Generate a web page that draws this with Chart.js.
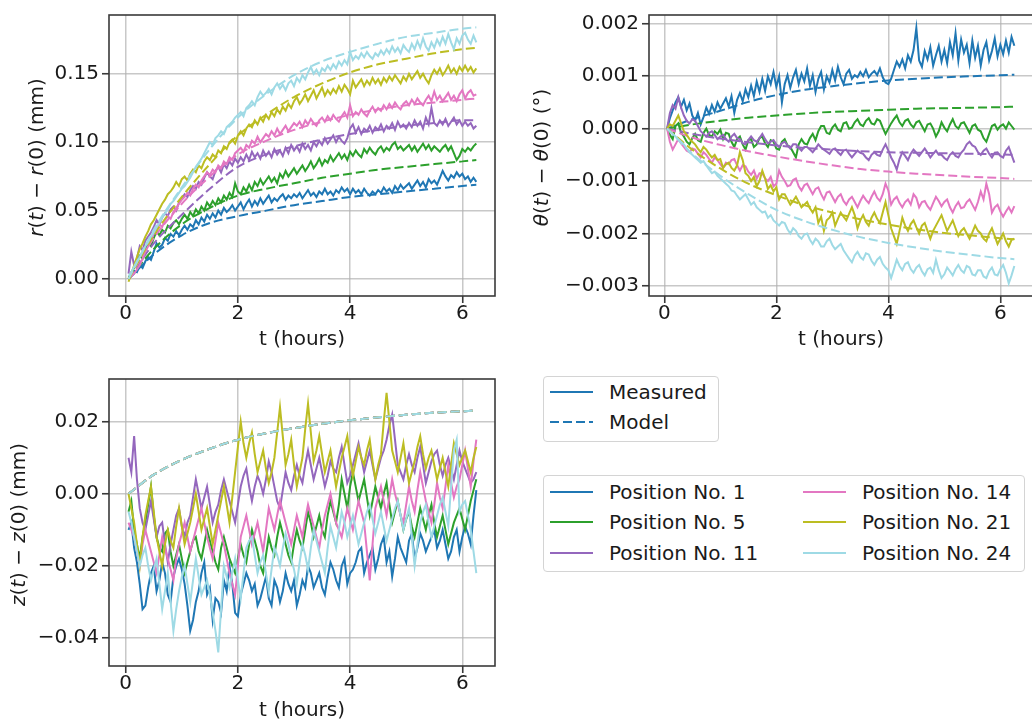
<!DOCTYPE html>
<html>
<head>
<meta charset="utf-8">
<script src="https://cdn.jsdelivr.net/npm/chart.js@4/dist/chart.umd.min.js"></script>
<style>
  html, body { margin: 0; padding: 0; background: #fff; }
  body { position: relative; width: 1032px; height: 721px; overflow: hidden; font-family: "DejaVu Sans", sans-serif; }
  canvas { position: absolute; }
  .legend { position: absolute; box-sizing: border-box; border: 1px solid #d4d4d4; border-radius: 4px; background: #fff; }
  .legend .txt { position: absolute; font-size: 20px; line-height: 24px; color: #1a1a1a; white-space: nowrap; }
  .legend svg { position: absolute; overflow: visible; }
</style>
</head>
<body>
<canvas id="rChart" width="520" height="360" style="left:0;top:0"></canvas>
<canvas id="thetaChart" width="540" height="360" style="left:520px;top:0"></canvas>
<canvas id="zChart" width="520" height="380" style="left:0;top:360px"></canvas>
<div class="legend" id="kindLegend" style="left:543px;top:376px;width:176px;height:66px"></div>
<div class="legend" id="posLegend" style="left:543px;top:475px;width:482px;height:97px"></div>

<script>
// sample times (hours), one row per half hour
const times = [
  0.05, 0.10, 0.15, 0.20, 0.25, 0.30, 0.35, 0.40, 0.45, 0.50,
  0.55, 0.60, 0.65, 0.70, 0.75, 0.80, 0.85, 0.90, 0.95, 1.00,
  1.05, 1.10, 1.15, 1.20, 1.25, 1.30, 1.35, 1.40, 1.45, 1.50,
  1.55, 1.60, 1.65, 1.70, 1.75, 1.80, 1.85, 1.90, 1.95, 2.00,
  2.05, 2.10, 2.15, 2.20, 2.25, 2.30, 2.35, 2.40, 2.45, 2.50,
  2.55, 2.60, 2.65, 2.70, 2.75, 2.80, 2.85, 2.90, 2.95, 3.00,
  3.05, 3.10, 3.15, 3.20, 3.25, 3.30, 3.35, 3.40, 3.45, 3.50,
  3.55, 3.60, 3.65, 3.70, 3.75, 3.80, 3.85, 3.90, 3.95, 4.00,
  4.05, 4.10, 4.15, 4.20, 4.25, 4.30, 4.35, 4.40, 4.45, 4.50,
  4.55, 4.60, 4.65, 4.70, 4.75, 4.80, 4.85, 4.90, 4.95, 5.00,
  5.05, 5.10, 5.15, 5.20, 5.25, 5.30, 5.35, 5.40, 5.45, 5.50,
  5.55, 5.60, 5.65, 5.70, 5.75, 5.80, 5.85, 5.90, 5.95, 6.00,
  6.05, 6.10, 6.15, 6.20, 6.25
];
const modelTimes = [0.05, 0.5, 1, 1.5, 2, 2.5, 3, 3.5, 4, 4.5, 5, 5.5, 6, 6.25];

const positions = ["Position No. 1", "Position No. 5", "Position No. 11", "Position No. 14", "Position No. 21", "Position No. 24"];
const kinds = ["Measured", "Model"];

// radial displacement r(t) - r(0), mm
const rPos1 = [
  0.000, 0.004, 0.006, 0.005, 0.010, 0.008, 0.013, 0.016, 0.014, 0.020,
  0.026, 0.023, 0.025, 0.030, 0.028, 0.033, 0.031, 0.035, 0.032, 0.036,
  0.039, 0.036, 0.040, 0.038, 0.043, 0.040, 0.045, 0.042, 0.047, 0.044,
  0.048, 0.045, 0.050, 0.047, 0.052, 0.049, 0.051, 0.054, 0.050, 0.053,
  0.056, 0.051, 0.055, 0.058, 0.053, 0.057, 0.054, 0.059, 0.055, 0.058,
  0.061, 0.056, 0.059, 0.057, 0.060, 0.062, 0.058, 0.061, 0.059, 0.062,
  0.060, 0.063, 0.059, 0.062, 0.065, 0.061, 0.063, 0.060, 0.064, 0.062,
  0.066, 0.062, 0.064, 0.061, 0.065, 0.063, 0.067, 0.064, 0.066, 0.062,
  0.066, 0.063, 0.065, 0.062, 0.066, 0.063, 0.061, 0.064, 0.062, 0.065,
  0.063, 0.067, 0.064, 0.066, 0.063, 0.068, 0.065, 0.069, 0.066, 0.068,
  0.070, 0.066, 0.069, 0.072, 0.068, 0.071, 0.067, 0.073, 0.070, 0.072,
  0.069, 0.074, 0.079, 0.075, 0.072, 0.076, 0.074, 0.078, 0.075, 0.077,
  0.073, 0.075, 0.071, 0.074, 0.071
];
const rPos5 = [
  0.001, 0.005, 0.008, 0.012, 0.017, 0.015, 0.022, 0.026, 0.024, 0.030,
  0.035, 0.032, 0.036, 0.034, 0.039, 0.037, 0.041, 0.043, 0.040, 0.044,
  0.047, 0.044, 0.049, 0.046, 0.051, 0.048, 0.053, 0.050, 0.056, 0.053,
  0.057, 0.054, 0.059, 0.056, 0.061, 0.058, 0.063, 0.060, 0.070, 0.064,
  0.062, 0.067, 0.064, 0.069, 0.065, 0.071, 0.068, 0.073, 0.069, 0.072,
  0.075, 0.071, 0.074, 0.070, 0.077, 0.074, 0.079, 0.075, 0.078, 0.081,
  0.077, 0.080, 0.083, 0.079, 0.082, 0.086, 0.081, 0.084, 0.088, 0.083,
  0.087, 0.085, 0.090, 0.086, 0.089, 0.092, 0.088, 0.091, 0.087, 0.093,
  0.090, 0.094, 0.091, 0.089, 0.095, 0.092, 0.096, 0.093, 0.091, 0.095,
  0.097, 0.093, 0.096, 0.094, 0.098, 0.100, 0.095, 0.097, 0.094, 0.096,
  0.098, 0.094, 0.097, 0.093, 0.096, 0.099, 0.095, 0.098, 0.094, 0.097,
  0.095, 0.093, 0.096, 0.098, 0.094, 0.097, 0.092, 0.087, 0.090, 0.095,
  0.093, 0.096, 0.094, 0.097, 0.099
];
const rPos11 = [
  0.004, 0.020, 0.010, 0.015, 0.024, 0.021, 0.028, 0.031, 0.034, 0.038,
  0.043, 0.040, 0.045, 0.048, 0.046, 0.051, 0.053, 0.050, 0.056, 0.059,
  0.062, 0.060, 0.065, 0.068, 0.066, 0.071, 0.069, 0.074, 0.078, 0.075,
  0.073, 0.079, 0.082, 0.078, 0.084, 0.081, 0.086, 0.083, 0.088, 0.085,
  0.089, 0.086, 0.091, 0.087, 0.093, 0.089, 0.092, 0.088, 0.094, 0.090,
  0.093, 0.089, 0.095, 0.091, 0.094, 0.090, 0.096, 0.092, 0.098, 0.094,
  0.097, 0.093, 0.099, 0.095, 0.098, 0.094, 0.100, 0.097, 0.101, 0.098,
  0.103, 0.099, 0.102, 0.105, 0.100, 0.104, 0.101, 0.099, 0.103, 0.110,
  0.113, 0.107, 0.111, 0.106, 0.110, 0.108, 0.112, 0.107, 0.111, 0.109,
  0.113, 0.108, 0.112, 0.110, 0.114, 0.109, 0.115, 0.111, 0.113, 0.110,
  0.114, 0.111, 0.116, 0.112, 0.115, 0.110, 0.118, 0.113, 0.125, 0.114,
  0.112, 0.116, 0.113, 0.117, 0.112, 0.115, 0.118, 0.113, 0.116, 0.112,
  0.115, 0.112, 0.114, 0.110, 0.112
];
const rPos14 = [
  0.000, 0.002, 0.004, 0.007, 0.010, 0.015, 0.020, 0.024, 0.028, 0.033,
  0.037, 0.040, 0.038, 0.043, 0.046, 0.044, 0.049, 0.052, 0.055, 0.058,
  0.060, 0.063, 0.061, 0.066, 0.069, 0.067, 0.072, 0.075, 0.078, 0.076,
  0.080, 0.078, 0.083, 0.081, 0.086, 0.084, 0.089, 0.087, 0.092, 0.094,
  0.096, 0.093, 0.098, 0.096, 0.101, 0.099, 0.104, 0.100, 0.103, 0.106,
  0.104, 0.108, 0.105, 0.110, 0.106, 0.109, 0.112, 0.108, 0.111, 0.114,
  0.112, 0.115, 0.111, 0.116, 0.113, 0.117, 0.114, 0.112, 0.116, 0.118,
  0.115, 0.119, 0.116, 0.120, 0.117, 0.115, 0.119, 0.122, 0.118, 0.127,
  0.119, 0.122, 0.120, 0.124, 0.121, 0.119, 0.123, 0.126, 0.122, 0.125,
  0.123, 0.127, 0.124, 0.128, 0.125, 0.129, 0.126, 0.124, 0.128, 0.130,
  0.127, 0.131, 0.128, 0.132, 0.129, 0.127, 0.131, 0.134, 0.130, 0.137,
  0.131, 0.134, 0.130, 0.133, 0.136, 0.131, 0.134, 0.130, 0.135, 0.138,
  0.132, 0.136, 0.138, 0.134, 0.135
];
const rPos21 = [
  -0.002, 0.004, 0.010, 0.016, 0.022, 0.026, 0.031, 0.035, 0.040, 0.043,
  0.047, 0.051, 0.055, 0.058, 0.062, 0.064, 0.067, 0.071, 0.068, 0.073,
  0.075, 0.072, 0.077, 0.080, 0.078, 0.083, 0.081, 0.086, 0.089, 0.087,
  0.091, 0.089, 0.094, 0.092, 0.097, 0.095, 0.100, 0.102, 0.099, 0.105,
  0.108, 0.105, 0.110, 0.113, 0.111, 0.116, 0.113, 0.118, 0.115, 0.120,
  0.117, 0.122, 0.119, 0.124, 0.121, 0.126, 0.123, 0.128, 0.125, 0.130,
  0.133, 0.128, 0.131, 0.135, 0.130, 0.134, 0.138, 0.132, 0.136, 0.140,
  0.134, 0.138, 0.135, 0.139, 0.136, 0.141, 0.137, 0.142, 0.139, 0.135,
  0.145, 0.140, 0.143, 0.146, 0.141, 0.145, 0.142, 0.147, 0.143, 0.146,
  0.142, 0.147, 0.144, 0.148, 0.145, 0.149, 0.146, 0.143, 0.148, 0.145,
  0.150, 0.146, 0.149, 0.152, 0.147, 0.150, 0.146, 0.143, 0.149, 0.153,
  0.150, 0.154, 0.149, 0.152, 0.156, 0.151, 0.154, 0.150, 0.155, 0.152,
  0.156, 0.152, 0.155, 0.151, 0.154
];
const rPos24 = [
  0.002, 0.005, 0.009, 0.013, 0.016, 0.020, 0.024, 0.027, 0.031, 0.034,
  0.038, 0.041, 0.045, 0.048, 0.051, 0.055, 0.057, 0.060, 0.063, 0.066,
  0.068, 0.071, 0.074, 0.078, 0.082, 0.085, 0.088, 0.092, 0.096, 0.100,
  0.098, 0.103, 0.105, 0.108, 0.106, 0.111, 0.113, 0.115, 0.118, 0.120,
  0.122, 0.119, 0.125, 0.127, 0.130, 0.127, 0.133, 0.137, 0.134, 0.136,
  0.139, 0.135, 0.140, 0.143, 0.139, 0.142, 0.138, 0.143, 0.145, 0.141,
  0.147, 0.144, 0.149, 0.146, 0.151, 0.155, 0.150, 0.153, 0.149, 0.154,
  0.152, 0.156, 0.153, 0.157, 0.154, 0.159, 0.156, 0.160, 0.157, 0.166,
  0.160, 0.163, 0.161, 0.165, 0.162, 0.166, 0.163, 0.161, 0.165, 0.163,
  0.167, 0.164, 0.168, 0.165, 0.170, 0.166, 0.169, 0.165, 0.171, 0.168,
  0.166, 0.172, 0.168, 0.174, 0.169, 0.176, 0.170, 0.167, 0.173, 0.169,
  0.175, 0.171, 0.177, 0.172, 0.179, 0.173, 0.168, 0.176, 0.172, 0.178,
  0.180, 0.175, 0.172, 0.178, 0.173
];
const rModel1  = [0, 0.018, 0.032, 0.041, 0.046, 0.050, 0.054, 0.057, 0.060, 0.062, 0.064, 0.066, 0.068, 0.069];
const rModel5  = [0, 0.022, 0.040, 0.052, 0.061, 0.066, 0.070, 0.074, 0.077, 0.080, 0.082, 0.084, 0.086, 0.087];
const rModel11 = [0, 0.026, 0.047, 0.066, 0.082, 0.091, 0.097, 0.102, 0.106, 0.109, 0.112, 0.114, 0.116, 0.116];
const rModel14 = [0, 0.030, 0.055, 0.075, 0.091, 0.101, 0.109, 0.115, 0.120, 0.124, 0.127, 0.129, 0.131, 0.132];
const rModel21 = [0, 0.032, 0.060, 0.084, 0.105, 0.120, 0.133, 0.143, 0.151, 0.157, 0.161, 0.165, 0.168, 0.169];
const rModel24 = [0, 0.036, 0.067, 0.095, 0.118, 0.135, 0.149, 0.159, 0.166, 0.172, 0.177, 0.180, 0.183, 0.184];

// angular displacement theta(t) - theta(0), degrees
const thetaPos1 = [
  0.00000, 0.00020, 0.00035, 0.00050, 0.00060, 0.00042, 0.00055, 0.00035, 0.00048, 0.00025,
  0.00015, 0.00030, 0.00008, 0.00022, 0.00040, 0.00028, 0.00045, 0.00032, 0.00050, 0.00038,
  0.00048, 0.00058, 0.00042, 0.00062, 0.00030, 0.00055, 0.00068, 0.00052, 0.00075, 0.00060,
  0.00082, 0.00062, 0.00090, 0.00070, 0.00095, 0.00072, 0.00100, 0.00085, 0.00108, 0.00080,
  0.00100, 0.00050, 0.00085, 0.00102, 0.00078, 0.00098, 0.00112, 0.00085, 0.00105, 0.00090,
  0.00115, 0.00082, 0.00102, 0.00070, 0.00095, 0.00108, 0.00075, 0.00100, 0.00088, 0.00112,
  0.00092, 0.00118, 0.00098, 0.00085, 0.00105, 0.00112, 0.00095, 0.00102, 0.00098, 0.00108,
  0.00100, 0.00112, 0.00098, 0.00105, 0.00110, 0.00102, 0.00115, 0.00098, 0.00088, 0.00085,
  0.00095, 0.00112, 0.00128, 0.00118, 0.00132, 0.00115, 0.00140, 0.00128, 0.00150, 0.00192,
  0.00130, 0.00118, 0.00148, 0.00132, 0.00155, 0.00120, 0.00140, 0.00158, 0.00128, 0.00150,
  0.00125, 0.00165, 0.00140, 0.00182, 0.00130, 0.00170, 0.00145, 0.00160, 0.00125, 0.00168,
  0.00135, 0.00158, 0.00120, 0.00150, 0.00165, 0.00130, 0.00148, 0.00172, 0.00138, 0.00160,
  0.00142, 0.00168, 0.00145, 0.00175, 0.00158
];
const thetaPos5 = [
  0.00000, -0.00012, -0.00020, 0.00005, 0.00010, -0.00008, -0.00015, -0.00025, -0.00030, -0.00018,
  -0.00010, -0.00022, -0.00025, -0.00008, 0.00000, -0.00012, -0.00015, -0.00005, -0.00010, -0.00002,
  -0.00020, -0.00008, -0.00010, -0.00025, -0.00035, -0.00020, -0.00015, -0.00030, -0.00040, -0.00022,
  -0.00020, -0.00035, -0.00030, -0.00018, -0.00015, -0.00028, -0.00035, -0.00022, -0.00025, -0.00038,
  -0.00040, -0.00025, -0.00020, -0.00032, -0.00035, -0.00045, -0.00055, -0.00030, -0.00020, -0.00028,
  -0.00030, -0.00018, -0.00010, -0.00022, -0.00005, 0.00005, 0.00005, -0.00008, -0.00010, 0.00002,
  0.00008, -0.00002, -0.00005, 0.00010, 0.00012, 0.00000, 0.00002, 0.00012, 0.00018, 0.00008,
  0.00005, 0.00015, 0.00020, 0.00010, 0.00008, 0.00018, 0.00015, 0.00002, -0.00010, 0.00000,
  0.00010, 0.00018, 0.00025, 0.00012, 0.00005, 0.00015, 0.00018, 0.00008, 0.00002, 0.00012,
  0.00015, 0.00005, -0.00005, 0.00008, 0.00010, 0.00000, -0.00015, -0.00005, 0.00012, 0.00002,
  -0.00005, 0.00008, 0.00018, 0.00005, 0.00000, 0.00010, 0.00012, 0.00002, -0.00008, 0.00005,
  0.00008, -0.00002, -0.00005, -0.00018, -0.00025, -0.00010, 0.00005, 0.00008, -0.00002, 0.00005,
  0.00008, 0.00000, 0.00012, 0.00005, -0.00002
];
const thetaPos11 = [
  0.00000, 0.00030, 0.00045, 0.00038, 0.00060, 0.00040, 0.00025, 0.00015, 0.00010, 0.00018,
  0.00015, 0.00005, -0.00005, -0.00010, -0.00015, -0.00008, -0.00005, -0.00012, -0.00020, -0.00015,
  -0.00012, -0.00020, -0.00025, -0.00015, -0.00010, -0.00018, -0.00020, -0.00028, -0.00030, -0.00022,
  -0.00015, -0.00022, -0.00025, -0.00018, -0.00010, -0.00020, -0.00028, -0.00025, -0.00022, -0.00030,
  -0.00035, -0.00028, -0.00025, -0.00032, -0.00038, -0.00030, -0.00030, -0.00036, -0.00042, -0.00035,
  -0.00035, -0.00040, -0.00045, -0.00038, -0.00030, -0.00036, -0.00040, -0.00044, -0.00048, -0.00040,
  -0.00038, -0.00045, -0.00050, -0.00042, -0.00040, -0.00048, -0.00055, -0.00048, -0.00042, -0.00046,
  -0.00048, -0.00055, -0.00060, -0.00050, -0.00045, -0.00050, -0.00052, -0.00040, -0.00030, -0.00042,
  -0.00055, -0.00065, -0.00078, -0.00058, -0.00045, -0.00052, -0.00060, -0.00048, -0.00040, -0.00046,
  -0.00052, -0.00045, -0.00038, -0.00046, -0.00055, -0.00048, -0.00042, -0.00050, -0.00050, -0.00056,
  -0.00060, -0.00050, -0.00045, -0.00052, -0.00055, -0.00046, -0.00040, -0.00030, -0.00025, -0.00032,
  -0.00035, -0.00045, -0.00050, -0.00042, -0.00038, -0.00048, -0.00055, -0.00046, -0.00045, -0.00052,
  -0.00055, -0.00042, -0.00035, -0.00050, -0.00065
];
const thetaPos14 = [
  0.00000, -0.00025, -0.00040, -0.00030, -0.00020, -0.00028, -0.00035, -0.00042, -0.00045, -0.00038,
  -0.00040, -0.00048, -0.00055, -0.00045, -0.00050, -0.00058, -0.00065, -0.00055, -0.00060, -0.00068,
  -0.00075, -0.00065, -0.00068, -0.00060, -0.00058, -0.00070, -0.00080, -0.00070, -0.00072, -0.00082,
  -0.00088, -0.00080, -0.00095, -0.00085, -0.00085, -0.00095, -0.00100, -0.00092, -0.00110, -0.00105,
  -0.00080, -0.00092, -0.00100, -0.00110, -0.00108, -0.00098, -0.00095, -0.00110, -0.00118, -0.00108,
  -0.00105, -0.00115, -0.00125, -0.00115, -0.00112, -0.00125, -0.00135, -0.00122, -0.00120, -0.00130,
  -0.00140, -0.00130, -0.00125, -0.00138, -0.00145, -0.00135, -0.00130, -0.00140, -0.00150, -0.00138,
  -0.00128, -0.00136, -0.00142, -0.00130, -0.00120, -0.00132, -0.00138, -0.00125, -0.00105, -0.00118,
  -0.00145, -0.00135, -0.00130, -0.00142, -0.00150, -0.00140, -0.00135, -0.00145, -0.00125, -0.00132,
  -0.00150, -0.00140, -0.00138, -0.00148, -0.00155, -0.00142, -0.00130, -0.00138, -0.00148, -0.00140,
  -0.00135, -0.00150, -0.00160, -0.00148, -0.00140, -0.00152, -0.00150, -0.00140, -0.00135, -0.00145,
  -0.00155, -0.00140, -0.00120, -0.00135, -0.00105, -0.00125, -0.00160, -0.00150, -0.00145, -0.00158,
  -0.00168, -0.00158, -0.00150, -0.00160, -0.00148
];
const thetaPos21 = [
  0.00000, 0.00008, 0.00005, 0.00015, 0.00025, 0.00010, -0.00005, -0.00012, -0.00020, -0.00025,
  -0.00030, -0.00038, -0.00045, -0.00035, -0.00040, -0.00048, -0.00055, -0.00050, -0.00060, -0.00058,
  -0.00075, -0.00068, -0.00065, -0.00075, -0.00080, -0.00070, -0.00045, -0.00060, -0.00085, -0.00090,
  -0.00100, -0.00092, -0.00110, -0.00100, -0.00080, -0.00095, -0.00115, -0.00108, -0.00120, -0.00112,
  -0.00135, -0.00125, -0.00125, -0.00135, -0.00145, -0.00138, -0.00130, -0.00140, -0.00150, -0.00145,
  -0.00140, -0.00152, -0.00160, -0.00150, -0.00180, -0.00168, -0.00195, -0.00175, -0.00170, -0.00160,
  -0.00185, -0.00172, -0.00160, -0.00168, -0.00175, -0.00162, -0.00150, -0.00165, -0.00190, -0.00175,
  -0.00165, -0.00178, -0.00185, -0.00170, -0.00160, -0.00172, -0.00180, -0.00160, -0.00140, -0.00165,
  -0.00190, -0.00205, -0.00220, -0.00195, -0.00170, -0.00185, -0.00195, -0.00182, -0.00175, -0.00188,
  -0.00200, -0.00185, -0.00180, -0.00195, -0.00210, -0.00195, -0.00185, -0.00175, -0.00165, -0.00180,
  -0.00195, -0.00185, -0.00175, -0.00190, -0.00205, -0.00195, -0.00190, -0.00200, -0.00210, -0.00198,
  -0.00185, -0.00195, -0.00200, -0.00210, -0.00215, -0.00200, -0.00190, -0.00205, -0.00220, -0.00210,
  -0.00200, -0.00215, -0.00225, -0.00212, -0.00210
];
const thetaPos24 = [
  0.00000, -0.00005, -0.00010, -0.00015, -0.00020, -0.00025, -0.00030, -0.00038, -0.00045, -0.00050,
  -0.00055, -0.00060, -0.00065, -0.00062, -0.00070, -0.00078, -0.00085, -0.00082, -0.00090, -0.00095,
  -0.00100, -0.00105, -0.00110, -0.00118, -0.00120, -0.00128, -0.00135, -0.00130, -0.00125, -0.00135,
  -0.00145, -0.00140, -0.00150, -0.00155, -0.00160, -0.00158, -0.00170, -0.00165, -0.00175, -0.00180,
  -0.00185, -0.00178, -0.00180, -0.00192, -0.00200, -0.00190, -0.00195, -0.00205, -0.00210, -0.00202,
  -0.00200, -0.00212, -0.00220, -0.00210, -0.00215, -0.00225, -0.00225, -0.00215, -0.00210, -0.00222,
  -0.00230, -0.00225, -0.00220, -0.00232, -0.00240, -0.00248, -0.00255, -0.00242, -0.00235, -0.00245,
  -0.00250, -0.00238, -0.00240, -0.00252, -0.00260, -0.00250, -0.00245, -0.00258, -0.00265, -0.00270,
  -0.00285, -0.00268, -0.00250, -0.00262, -0.00270, -0.00258, -0.00255, -0.00268, -0.00275, -0.00265,
  -0.00260, -0.00272, -0.00280, -0.00268, -0.00265, -0.00275, -0.00250, -0.00270, -0.00285, -0.00278,
  -0.00265, -0.00272, -0.00280, -0.00268, -0.00260, -0.00270, -0.00275, -0.00262, -0.00265, -0.00278,
  -0.00280, -0.00270, -0.00270, -0.00282, -0.00285, -0.00272, -0.00265, -0.00278, -0.00280, -0.00268,
  -0.00260, -0.00275, -0.00295, -0.00280, -0.00262
];
const thetaModel1  = [0, 0.00018, 0.00034, 0.00051, 0.00064, 0.00074, 0.00081, 0.00087, 0.00092, 0.00095, 0.00098, 0.00100, 0.00102, 0.00103];
const thetaModel5  = [0, 0.00008, 0.00015, 0.00021, 0.00025, 0.00029, 0.00032, 0.00034, 0.00036, 0.00038, 0.00039, 0.00040, 0.00041, 0.00042];
const thetaModel11 = [0, -0.00010, -0.00019, -0.00026, -0.00032, -0.00037, -0.00040, -0.00043, -0.00045, -0.00046, -0.00047, -0.00048, -0.00049, -0.00050];
const thetaModel14 = [0, -0.00017, -0.00031, -0.00043, -0.00053, -0.00062, -0.00070, -0.00077, -0.00082, -0.00086, -0.00089, -0.00092, -0.00094, -0.00096];
const thetaModel21 = [0, -0.00040, -0.00076, -0.00105, -0.00127, -0.00146, -0.00160, -0.00173, -0.00183, -0.00192, -0.00199, -0.00204, -0.00209, -0.00211];
const thetaModel24 = [0, -0.00048, -0.00090, -0.00125, -0.00155, -0.00176, -0.00193, -0.00207, -0.00218, -0.00227, -0.00235, -0.00241, -0.00247, -0.00249];

// axial displacement z(t) - z(0), mm
const zPos1 = [
  -0.010, -0.008, -0.015, -0.019, -0.025, -0.032, -0.031, -0.026, -0.022, -0.020,
  -0.027, -0.024, -0.019, -0.022, -0.028, -0.030, -0.023, -0.020, -0.018, -0.021,
  -0.025, -0.031, -0.038, -0.035, -0.030, -0.027, -0.022, -0.019, -0.028, -0.026,
  -0.035, -0.029, -0.030, -0.033, -0.024, -0.027, -0.020, -0.025, -0.033, -0.034,
  -0.028, -0.025, -0.022, -0.024, -0.027, -0.025, -0.031, -0.029, -0.026, -0.023,
  -0.029, -0.031, -0.024, -0.026, -0.030, -0.027, -0.022, -0.025, -0.027, -0.024,
  -0.031, -0.028, -0.024, -0.026, -0.020, -0.022, -0.026, -0.024, -0.022, -0.026,
  -0.028, -0.023, -0.019, -0.021, -0.024, -0.026, -0.020, -0.018, -0.025, -0.022,
  -0.021, -0.019, -0.016, -0.015, -0.022, -0.019, -0.017, -0.015, -0.021, -0.018,
  -0.014, -0.012, -0.019, -0.016, -0.023, -0.018, -0.012, -0.015, -0.017, -0.019,
  -0.013, -0.011, -0.018, -0.015, -0.011, -0.013, -0.016, -0.014, -0.012, -0.010,
  -0.015, -0.013, -0.010, -0.014, -0.018, -0.016, -0.012, -0.010, -0.016, -0.012,
  -0.009, -0.011, -0.014, -0.006, 0.001
];
const zPos5 = [
  -0.005, -0.002, -0.010, -0.014, -0.018, -0.012, -0.008, -0.003, 0.002, -0.006,
  -0.012, -0.015, -0.016, -0.011, -0.010, -0.016, -0.020, -0.017, -0.014, -0.018,
  -0.022, -0.019, -0.016, -0.013, -0.012, -0.016, -0.018, -0.014, -0.010, -0.013,
  -0.016, -0.019, -0.021, -0.015, -0.012, -0.015, -0.018, -0.020, -0.022, -0.018,
  -0.014, -0.017, -0.019, -0.014, -0.010, -0.013, -0.016, -0.020, -0.022, -0.017,
  -0.012, -0.015, -0.017, -0.012, -0.008, -0.011, -0.014, -0.017, -0.019, -0.014,
  -0.010, -0.013, -0.015, -0.010, -0.005, -0.008, -0.012, -0.009, -0.006, -0.010,
  -0.012, -0.006, -0.002, -0.005, -0.008, -0.003, 0.004, 0.000, -0.004, 0.002,
  0.006, 0.002, -0.002, 0.001, 0.004, -0.001, -0.006, -0.002, 0.002, -0.001,
  -0.004, 0.000, 0.003, -0.003, -0.008, -0.005, -0.002, -0.006, -0.010, -0.007,
  -0.005, -0.009, -0.012, -0.008, -0.004, -0.007, -0.010, -0.006, -0.003, -0.008,
  -0.012, -0.009, -0.006, -0.010, -0.014, -0.011, -0.008, -0.006, -0.004, -0.007,
  -0.010, -0.006, -0.002, 0.001, 0.004
];
const zPos11 = [
  0.010, 0.006, 0.016, 0.004, -0.004, -0.008, -0.010, -0.006, -0.002, -0.007,
  -0.012, -0.009, -0.008, -0.014, -0.019, -0.014, -0.010, -0.006, -0.004, -0.009,
  -0.012, -0.008, -0.006, -0.001, 0.004, 0.000, -0.004, -0.001, 0.002, -0.003,
  -0.008, -0.005, -0.003, 0.001, 0.004, 0.001, -0.002, -0.005, -0.008, -0.003,
  0.002, 0.005, 0.007, 0.002, -0.002, 0.002, 0.005, 0.003, 0.000, 0.004,
  0.009, 0.006, 0.002, -0.002, -0.004, 0.001, 0.006, 0.003, 0.001, 0.005,
  0.008, 0.005, 0.003, 0.008, 0.012, 0.008, 0.004, 0.007, 0.010, 0.006,
  0.002, 0.005, 0.009, 0.007, 0.006, 0.010, 0.013, 0.008, 0.003, 0.005,
  0.008, 0.011, 0.014, 0.010, 0.006, 0.009, 0.012, 0.008, 0.004, 0.007,
  0.010, 0.012, 0.015, 0.019, 0.022, 0.015, 0.008, 0.006, 0.004, 0.008,
  0.011, 0.008, 0.006, 0.010, 0.013, 0.008, 0.003, 0.006, 0.009, 0.011,
  0.012, 0.008, 0.005, 0.008, 0.010, 0.007, 0.004, 0.008, 0.012, 0.009,
  0.007, 0.005, 0.003, 0.004, 0.006
];
const zPos14 = [
  -0.008, -0.010, -0.012, -0.016, -0.020, -0.014, -0.010, -0.013, -0.016, -0.019,
  -0.022, -0.017, -0.012, -0.015, -0.018, -0.021, -0.024, -0.018, -0.014, -0.011,
  -0.008, -0.012, -0.016, -0.013, -0.010, -0.007, -0.004, -0.008, -0.012, -0.015,
  -0.018, -0.013, -0.008, -0.011, -0.014, -0.018, -0.022, -0.025, -0.028, -0.020,
  -0.012, -0.009, -0.006, -0.010, -0.014, -0.011, -0.008, -0.012, -0.016, -0.010,
  -0.004, -0.007, -0.010, -0.006, -0.002, -0.005, -0.008, -0.011, -0.014, -0.010,
  -0.006, -0.009, -0.012, -0.007, -0.003, -0.006, -0.009, -0.012, -0.015, -0.010,
  -0.006, -0.003, 0.000, -0.004, -0.008, -0.010, -0.012, -0.008, -0.004, -0.007,
  -0.010, -0.006, -0.002, -0.005, -0.008, -0.016, -0.024, -0.014, -0.004, -0.001,
  0.002, -0.002, -0.006, -0.001, 0.004, 0.000, -0.003, -0.006, -0.008, -0.003,
  0.002, -0.002, -0.005, 0.001, 0.006, 0.002, -0.002, -0.005, -0.008, -0.003,
  0.003, -0.001, -0.004, 0.002, 0.008, 0.003, -0.001, 0.002, 0.004, 0.008,
  0.012, 0.007, 0.002, 0.009, 0.015
];
const zPos21 = [
  0.000, -0.004, -0.008, -0.014, -0.020, -0.012, -0.006, -0.002, 0.002, -0.005,
  -0.012, -0.016, -0.020, -0.014, -0.010, -0.013, -0.015, -0.009, -0.004, -0.009,
  -0.014, -0.011, -0.008, -0.004, 0.000, -0.005, -0.010, -0.007, -0.004, -0.009,
  -0.014, -0.010, -0.006, -0.002, 0.002, -0.003, -0.008, -0.001, 0.006, 0.013,
  0.020, 0.014, 0.010, 0.014, 0.017, 0.011, 0.006, 0.009, 0.012, 0.007,
  0.003, 0.006, 0.010, 0.017, 0.024, 0.016, 0.008, 0.011, 0.015, 0.008,
  0.002, 0.006, 0.010, 0.018, 0.025, 0.017, 0.009, 0.012, 0.016, 0.011,
  0.006, 0.009, 0.012, 0.007, 0.002, 0.006, 0.010, 0.013, 0.016, 0.010,
  0.005, 0.009, 0.013, 0.010, 0.008, 0.012, 0.015, 0.009, 0.004, 0.008,
  0.011, 0.020, 0.028, 0.020, 0.012, 0.009, 0.006, 0.010, 0.014, 0.008,
  0.003, 0.006, 0.009, 0.013, 0.016, 0.011, 0.007, 0.010, 0.012, 0.008,
  0.004, 0.007, 0.010, 0.006, 0.002, 0.008, 0.014, 0.011, 0.008, 0.010,
  0.012, 0.009, 0.006, 0.010, 0.013
];
const zPos24 = [
  -0.005, -0.008, -0.012, -0.016, -0.020, -0.017, -0.015, -0.020, -0.024, -0.021,
  -0.018, -0.025, -0.032, -0.027, -0.022, -0.030, -0.038, -0.032, -0.027, -0.023,
  -0.020, -0.025, -0.030, -0.024, -0.018, -0.023, -0.028, -0.026, -0.024, -0.028,
  -0.033, -0.038, -0.044, -0.032, -0.020, -0.023, -0.026, -0.022, -0.018, -0.024,
  -0.029, -0.022, -0.015, -0.013, -0.012, -0.017, -0.022, -0.019, -0.017, -0.022,
  -0.027, -0.021, -0.015, -0.017, -0.020, -0.015, -0.011, -0.014, -0.018, -0.021,
  -0.025, -0.019, -0.014, -0.017, -0.021, -0.015, -0.010, -0.013, -0.016, -0.019,
  -0.022, -0.015, -0.009, -0.012, -0.015, -0.010, -0.005, -0.008, -0.012, -0.009,
  -0.006, -0.010, -0.014, -0.011, -0.008, -0.005, -0.003, -0.007, -0.011, -0.008,
  -0.005, -0.009, -0.013, -0.010, -0.007, -0.004, -0.002, -0.006, -0.010, -0.007,
  -0.004, -0.012, -0.020, -0.014, -0.008, -0.005, -0.003, -0.008, -0.012, -0.009,
  -0.006, -0.003, -0.001, -0.005, -0.009, 0.002, 0.012, 0.015, -0.005, -0.003,
  -0.002, -0.006, -0.010, -0.016, -0.022
];
// the axial model is the same for every position
const zModel = [0, 0.0053, 0.0094, 0.0125, 0.0150, 0.0168, 0.0182, 0.0194, 0.0204, 0.0212, 0.0219, 0.0225, 0.0229, 0.0231];

const xTicks = [0, 2, 4, 6];
const rTicks = [0, 0.05, 0.10, 0.15];
const rTickLabels = ["0.00", "0.05", "0.10", "0.15"];
const thetaTicks = [-0.003, -0.002, -0.001, 0, 0.001, 0.002];
const thetaTickLabels = ["\u22120.003", "\u22120.002", "\u22120.001", "0.000", "0.001", "0.002"];
const zTicks = [-0.04, -0.02, 0, 0.02];
const zTickLabels = ["\u22120.04", "\u22120.02", "0.00", "0.02"];

const lineColors = ["#1f77b4", "#2ca02c", "#9467bd", "#e377c2", "#bcbd22", "#9edae5"];
const DASH = [9, 4];

Chart.defaults.font.family = "'DejaVu Sans', sans-serif";
Chart.defaults.font.size = 20;
Chart.defaults.color = "#1a1a1a";

// box around the plot area plus the y title with italic symbols
const framePlugin = {
  id: "frame",
  afterDraw(chart, args, opts) {
    const { ctx, chartArea: a } = chart;
    ctx.save();
    ctx.strokeStyle = "#3a3a3a";
    ctx.lineWidth = 1.6;
    ctx.strokeRect(a.left, a.top, a.right - a.left, a.bottom - a.top);

    const parts = opts.parts || [];
    const fontOf = p => (p[1] ? "italic " : "") + "20px 'DejaVu Sans', sans-serif";
    let total = 0;
    parts.forEach(p => { ctx.font = fontOf(p); total += ctx.measureText(p[0]).width; });
    ctx.translate(opts.x, (a.top + a.bottom) / 2 + 2);
    ctx.rotate(-Math.PI / 2);
    ctx.fillStyle = "#1a1a1a";
    ctx.textBaseline = "middle";
    ctx.textAlign = "left";
    let cx = -total / 2;
    parts.forEach(p => {
      ctx.font = fontOf(p);
      ctx.fillText(p[0], cx, 0);
      cx += ctx.measureText(p[0]).width;
    });
    ctx.restore();
  }
};

function buildChart(id, measured, models, cfg) {
  const datasets = [];
  measured.forEach((vals, i) => {
    datasets.push({
      data: times.map((t, k) => ({ x: t, y: vals[k] })),
      borderColor: lineColors[i], borderWidth: 2, pointRadius: 0,
      order: 100 - datasets.length
    });
    datasets.push({
      data: modelTimes.map((t, k) => ({ x: t, y: models[i][k] })),
      borderColor: lineColors[i], borderWidth: 2, borderDash: DASH, pointRadius: 0,
      cubicInterpolationMode: "monotone",
      order: 100 - datasets.length
    });
  });

  const grid = {
    color: "rgba(176,176,176,0.7)", lineWidth: 1.5,
    tickLength: 7, tickColor: "#3a3a3a", tickWidth: 1.6
  };

  return new Chart(document.getElementById(id), {
    type: "line",
    data: { datasets },
    options: {
      responsive: false,
      animation: false,
      events: [],
      layout: { autoPadding: false, padding: { left: 0, top: cfg.top, right: cfg.right, bottom: 0 } },
      plugins: {
        legend: { display: false },
        tooltip: { enabled: false },
        frame: { x: cfg.titleX, parts: cfg.titleParts }
      },
      scales: {
        x: {
          type: "linear", min: cfg.xMin, max: 6.583,
          grid, border: { display: false },
          ticks: { padding: -1, maxRotation: 0, autoSkip: false, callback: v => String(v) },
          title: { display: true, text: "t (hours)", padding: { top: 0, bottom: cfg.xTitlePad } },
          afterBuildTicks: s => { s.ticks = xTicks.map(v => ({ value: v })); },
          afterFit: s => { s.height = cfg.xHeight; }
        },
        y: {
          type: "linear", min: cfg.yMin, max: cfg.yMax,
          grid, border: { display: false },
          ticks: {
            padding: 3, autoSkip: false,
            callback: (v, idx) => cfg.yLabels[idx]
          },
          afterBuildTicks: s => { s.ticks = cfg.yTicks.map(v => ({ value: v })); },
          afterFit: s => { s.width = cfg.yWidth; }
        }
      }
    },
    plugins: [framePlugin]
  });
}

buildChart("rChart",
  [rPos1, rPos5, rPos11, rPos14, rPos21, rPos24],
  [rModel1, rModel5, rModel11, rModel14, rModel21, rModel24],
  {
    top: 9, right: 25, xHeight: 64, yWidth: 109, xTitlePad: 8, xMin: -0.298,
    yMin: -0.01239, yMax: 0.19298, yTicks: rTicks, yLabels: rTickLabels, titleX: 38,
    titleParts: [["r", 1], ["(", 0], ["t", 1], [") \u2212 ", 0], ["r", 1], ["(0) (mm)", 0]]
  });

buildChart("thetaChart",
  [thetaPos1, thetaPos5, thetaPos11, thetaPos14, thetaPos21, thetaPos24],
  [thetaModel1, thetaModel5, thetaModel11, thetaModel14, thetaModel21, thetaModel24],
  {
    top: 9, right: 27, xHeight: 64, yWidth: 129, xTitlePad: 8, xMin: -0.273,
    yMin: -0.003193, yMax: 0.002168, yTicks: thetaTicks, yLabels: thetaTickLabels, titleX: 23,
    titleParts: [["\u03b8", 1], ["(", 0], ["t", 1], [") \u2212 ", 0], ["\u03b8", 1], ["(0) (\u00b0)", 0]]
  });

buildChart("zChart",
  [zPos1, zPos5, zPos11, zPos14, zPos21, zPos24],
  [zModel, zModel, zModel, zModel, zModel, zModel],
  {
    top: 19, right: 25, xHeight: 74, yWidth: 109, xTitlePad: 17, xMin: -0.298,
    yMin: -0.04777, yMax: 0.03184, yTicks: zTicks, yLabels: zTickLabels, titleX: 20,
    titleParts: [["z", 1], ["(", 0], ["t", 1], [") \u2212 ", 0], ["z", 1], ["(0) (mm)", 0]]
  });

// legends
function addEntry(box, label, color, dashed, x, cy) {
  const ns = "http://www.w3.org/2000/svg";
  const svg = document.createElementNS(ns, "svg");
  svg.setAttribute("width", "44");
  svg.setAttribute("height", "4");
  svg.style.left = x + "px";
  svg.style.top = (cy - 2) + "px";
  const line = document.createElementNS(ns, "line");
  line.setAttribute("x1", "0"); line.setAttribute("x2", "43");
  line.setAttribute("y1", "2"); line.setAttribute("y2", "2");
  line.setAttribute("stroke", color);
  line.setAttribute("stroke-width", "2");
  if (dashed) line.setAttribute("stroke-dasharray", DASH.join(" "));
  svg.appendChild(line);
  box.appendChild(svg);

  const txt = document.createElement("div");
  txt.className = "txt";
  txt.textContent = label;
  txt.style.left = (x + 59) + "px";
  txt.style.top = (cy - 12) + "px";
  box.appendChild(txt);
}

const kindBox = document.getElementById("kindLegend");
kinds.forEach((k, i) => addEntry(kindBox, k, lineColors[0], i === 1, 6, 15 + i * 30));

const posBox = document.getElementById("posLegend");
positions.forEach((p, i) => {
  const col = Math.floor(i / 3), row = i % 3;
  addEntry(posBox, p, lineColors[i], false, col === 0 ? 6 : 259, 16 + row * 30.3);
});
</script>
</body>
</html>
